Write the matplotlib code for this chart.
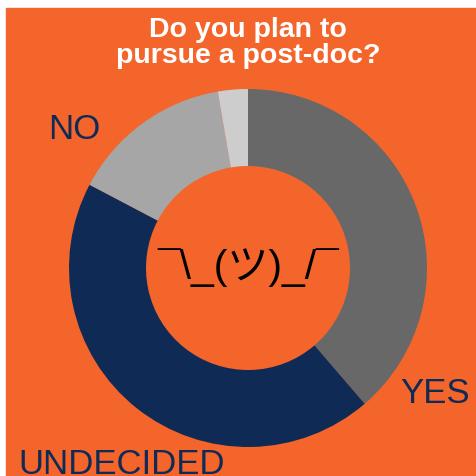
import matplotlib
matplotlib.use('Agg')
import matplotlib.pyplot as plt
from matplotlib.patches import Rectangle

# --------------------------------------------------------------------------
# Data
# --------------------------------------------------------------------------
answers = ['YES', 'UNDECIDED', 'NO', 'OTHER']
shares  = [38.7, 44.0, 14.6, 2.7]
slice_colors = ['#686868', '#102A56', '#A6A6A6', '#CDCDCD']
title_lines = ['Do you plan to', 'pursue a post-doc?']
shrug   = '¯\\_(ツ)_/¯'

ORANGE = '#F4652B'
NAVY   = '#102A56'
W = H = 476

fig = plt.figure(figsize=(4.76, 4.76), dpi=100, facecolor='white')
ax = fig.add_axes([0, 0, 1, 1])
ax.set_xlim(0, W)
ax.set_ylim(0, H)
ax.set_aspect('equal')
ax.axis('off')

# orange panel (small white margin top/left)
ax.add_patch(Rectangle((6, 0), W - 6, H - 8, color=ORANGE, zorder=0))

# donut
ax.pie(shares, colors=slice_colors, startangle=90, counterclock=False,
       center=(248, H - 268), radius=179,
       wedgeprops=dict(width=179 - 102, linewidth=0))
ax.set_xlim(0, W)
ax.set_ylim(0, H)

# title, one text per line
for line, base in zip(title_lines, [37, 63]):
    ax.text(248, H - base, line, ha='center', va='baseline', color='white',
            fontsize=20.5, fontweight='bold', family='Liberation Sans')

ax.text(248, H - 268, shrug, ha='center', va='center', color='black',
        fontsize=29.5, family=['Liberation Sans', 'Noto Sans CJK JP'])

lab = dict(color=NAVY, fontsize=25, family='Liberation Sans', va='baseline')
ax.text(48, H - 139, answers[2], ha='left', **lab)
ax.text(400, H - 403, answers[0], ha='left', **lab)
ax.text(18, H - 474, answers[1], ha='left', **lab)

fig.savefig('out.png', dpi=100, facecolor='white')
